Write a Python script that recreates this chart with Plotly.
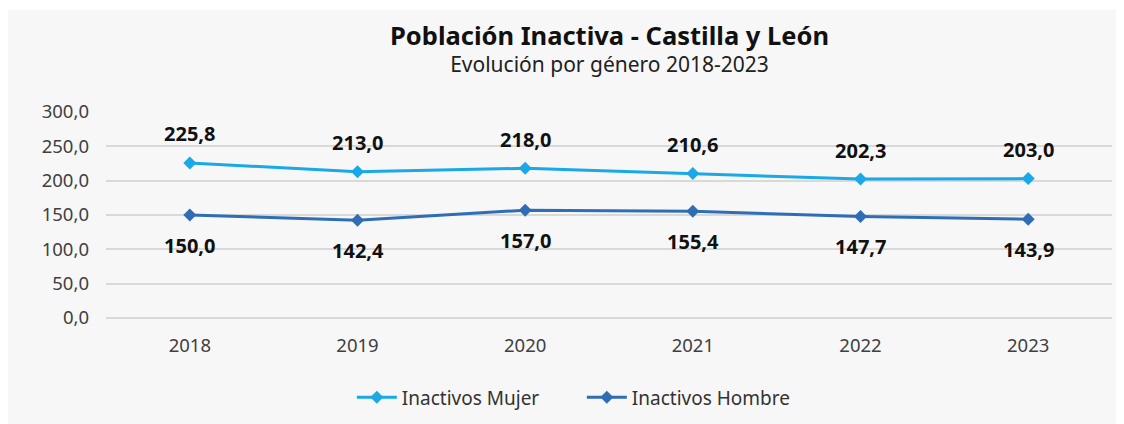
import plotly.graph_objects as go

years = ["2018", "2019", "2020", "2021", "2022", "2023"]
mujer = [225.8, 213.0, 218.0, 210.6, 202.3, 203.0]
hombre = [150.0, 142.4, 157.0, 155.4, 147.7, 143.9]
y_ticks = [0, 50, 100, 150, 200, 250, 300]

title = "Población Inactiva - Castilla y León"
subtitle = "Evolución por género 2018-2023"

FONT = "Noto Sans"
c_mujer = "#19a9e6"
c_hombre = "#2f6db4"

fig = go.Figure()
fig.add_trace(go.Scatter(
    x=years, y=mujer, name="Inactivos Mujer", mode="lines+markers",
    line=dict(color=c_mujer, width=3),
    marker=dict(symbol="diamond", size=10, color=c_mujer),
))
fig.add_trace(go.Scatter(
    x=years, y=hombre, name="Inactivos Hombre", mode="lines+markers",
    line=dict(color=c_hombre, width=3),
    marker=dict(symbol="diamond", size=10, color=c_hombre),
))

def fmt(v):
    return f"{v:.1f}".replace(".", ",")

annotations = []
for i, v in enumerate(mujer):
    annotations.append(dict(x=i, y=v, xref="x", yref="y", text=fmt(v), showarrow=False,
                            yshift=29, font=dict(family=FONT, size=20, color="#111111", weight="bold")))
for i, v in enumerate(hombre):
    annotations.append(dict(x=i, y=v, xref="x", yref="y", text=fmt(v), showarrow=False,
                            yshift=-30, font=dict(family=FONT, size=20, color="#111111", weight="bold")))

annotations.append(dict(
    x=0.5, y=1.31, xref="paper", yref="paper", showarrow=False,
    xanchor="center", yanchor="middle", align="center",
    text=(f"<span style='font-size:25.5px;font-weight:bold;color:#111111'>{title}</span>"
          f"<br>{subtitle}"),
    font=dict(family=FONT, size=21, color="#222222")))

L, T, PW, PH = 98, 104, 1006, 206
fig.update_layout(
    width=1124, height=424,
    margin=dict(l=L, r=1124 - L - PW, t=T, b=424 - T - PH, autoexpand=False),
    paper_bgcolor="white",
    plot_bgcolor="#f7f7f7",
    separators=",.",
    font=dict(family=FONT, size=16, color="#404040"),
    showlegend=True,
    legend=dict(orientation="h", x=0.473, xanchor="center", y=-0.385, yanchor="middle",
                bgcolor="rgba(0,0,0,0)", font=dict(family=FONT, size=19, color="#333333"),
                itemwidth=40, entrywidth=175, entrywidthmode="pixels", traceorder="normal"),
    annotations=annotations,
    shapes=[dict(type="rect", xref="paper", yref="paper", layer="below",
                 x0=(0 - L) / PW, x1=(1124 - L) / PW,
                 y0=(T + PH - 424) / PH, y1=(T + PH - 2) / PH,
                 fillcolor="#f7f7f7", line=dict(width=0))],
)
fig.update_xaxes(type="category", range=[-0.5, 5.5], showgrid=False, zeroline=False,
                 showline=False, ticks="", ticklabelstandoff=14,
                 tickfont=dict(family=FONT, size=18.5, color="#404040"))
fig.update_yaxes(range=[0, 300], tickvals=y_ticks, tickformat=".1f", showgrid=True,
                 gridcolor="#d9d9d9", gridwidth=1.5, zeroline=True, zerolinecolor="#d9d9d9",
                 zerolinewidth=1.5, showline=False, ticks="", ticklabelstandoff=16,
                 tickfont=dict(family=FONT, size=18.5, color="#404040"))

fig.write_html("out.html")
